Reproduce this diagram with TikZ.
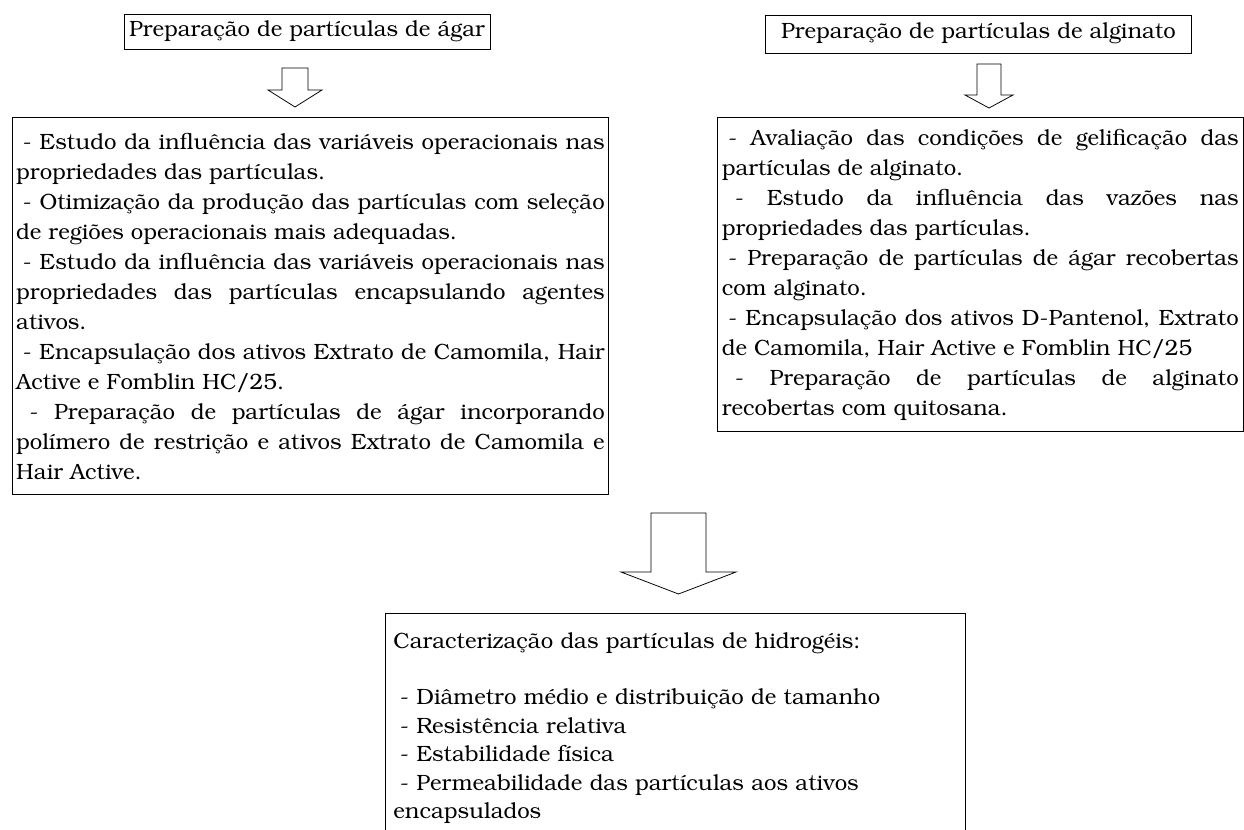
\documentclass[tikz,border=0pt]{standalone}
\usepackage[T1]{fontenc}
\usepackage{bookman}
\usetikzlibrary{positioning}

\begin{document}
\begin{tikzpicture}[x=0.52pt, y=-0.52pt,
        titlebox/.style={rectangle,draw,thin,inner sep=0pt,align=center,
          font=\fontsize{11.5}{15.6}\selectfont},
        listbox/.style={rectangle,draw,thin,anchor=north west,align=justify,
          inner xsep=2pt,inner ysep=4pt,font=\fontsize{11.5}{15.6}\selectfont},
        blockarrow/.style={draw,thin,fill=white,line join=miter}]
        \useasboundingbox (0,0) rectangle (1244,830);
        % top boxes
        \node[titlebox,minimum width=190.3pt,minimum height=18.2pt] (agar) at (307,31.5) {Preparação de partículas de ágar};
        \node[titlebox,minimum width=221.5pt,minimum height=19.8pt] (alginato) at (978.5,34) {Preparação de partículas de alginato};
        % list boxes
        \node[listbox,text width=306pt,minimum height=196pt] (agarlist) at (12,117) {%
          \hspace*{.3em}- Estudo da influência das variáveis operacionais nas\linebreak
          propriedades das partículas.\\
          \hspace*{.3em}- Otimização da produção das partículas com seleção\linebreak
          de regiões operacionais mais adequadas.\\
          \hspace*{.3em}- Estudo da influência das variáveis operacionais nas\linebreak
          propriedades das partículas encapsulando agentes\linebreak
          ativos.\\
          \hspace*{.3em}- Encapsulação dos ativos Extrato de Camomila, Hair\linebreak
          Active e Fomblin HC/25.\\
          \hspace*{.6em}- Preparação de partículas de ágar incorporando\linebreak
          polímero de restrição e ativos Extrato de Camomila e\linebreak
          Hair Active.};
        \node[listbox,text width=268.8pt,inner xsep=2.3pt,minimum height=163.3pt] (alglist) at (717,117) {%
          \hspace*{.3em}- Avaliação das condições de gelificação das\linebreak
          partículas de alginato.\\
          \hspace*{.6em}- Estudo da influência das vazões nas\linebreak
          propriedades das partículas.\\
          \hspace*{.3em}- Preparação de partículas de ágar recobertas\linebreak
          com alginato.\\
          \hspace*{.3em}- Encapsulação dos ativos D-Pantenol, Extrato\linebreak
          de Camomila, Hair Active e Fomblin HC/25\\
          \hspace*{.6em}- Preparação de partículas de alginato\linebreak
          recobertas com quitosana.};
        \node[listbox,align=left,text width=293.2pt,inner xsep=4.2pt,inner ysep=10pt,
          font=\fontsize{11.5}{14.8}\selectfont] (carac) at (385,613) {%
          Caracterização das partículas de hidrogéis:\\
          \mbox{}\\
          \hspace*{.3em}- Diâmetro médio e distribuição de tamanho\\
          \hspace*{.3em}- Resistência relativa\\
          \hspace*{.3em}- Estabilidade física\\
          \hspace*{.3em}- Permeabilidade das partículas aos ativos\\
          encapsulados};
        % block arrows
        \draw[blockarrow] (282,68) -- (308,68) -- (308,90) -- (322,90) -- (295,107)
          -- (268,90) -- (282,90) -- cycle;
        \draw[blockarrow] (977,64) -- (1001,64) -- (1001,95) -- (1013,95) -- (989,108)
          -- (965,95) -- (977,95) -- cycle;
        \draw[blockarrow] (651,513) -- (706,513) -- (706,572) -- (736,572) -- (678.5,594)
          -- (621,572) -- (651,572) -- cycle;
      \end{tikzpicture}
\end{document}
